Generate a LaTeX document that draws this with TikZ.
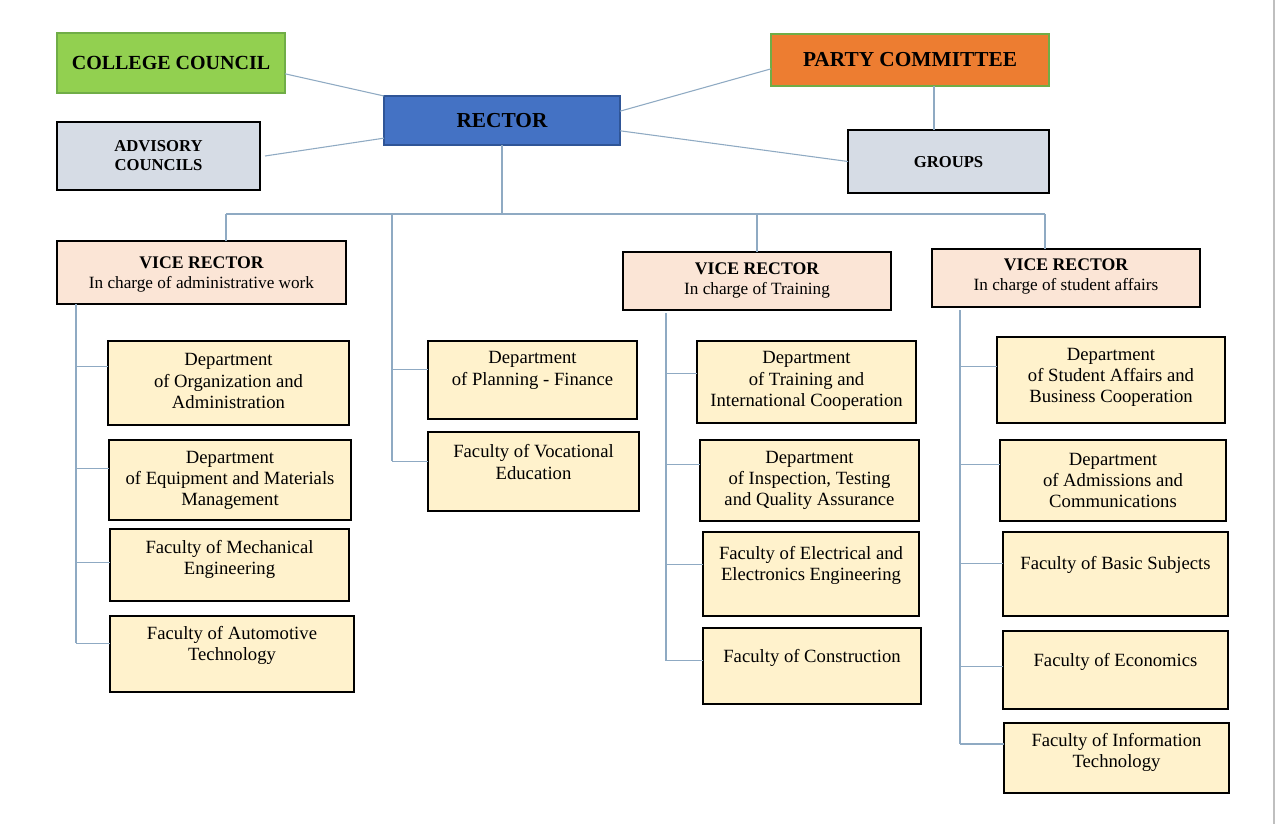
\documentclass[tikz,border=0pt]{standalone}
\usepackage{fontspec}
\setmainfont{Liberation Serif}
\usetikzlibrary{calc}
\definecolor{lineC}{RGB}{143,170,195}
\definecolor{lowF}{RGB}{255,242,204}
\definecolor{vrF}{RGB}{251,229,214}
\definecolor{grayF}{RGB}{214,220,229}
\definecolor{ccF}{RGB}{146,208,80}
\definecolor{greenB}{RGB}{112,173,71}
\definecolor{partyF}{RGB}{237,125,49}
\definecolor{rectF}{RGB}{68,114,196}
\definecolor{rectB}{RGB}{47,85,151}
\newcommand\bx[8]{%
 \node[#1, minimum width={(#5-#3)*0.75pt}, minimum height={(#6-#4)*0.75pt}] (#2) at ({(#3+#5)/2},{(#4+#6)/2}) {};
 \node[#1txt] (#2-t) at ({(#3+#5)/2},#7) {#8};}
\newcommand\brn[4]{%
 \path ($(#2.north west)!#3!(#2.south west)$) coordinate (#4);
 \draw[conn] (#4) -- (#4 -| #1);}
\newcommand\vrtitle{\fontsize{13.3}{15}\selectfont\bfseries VICE RECTOR}
\begin{document}
\begin{tikzpicture}[x=0.75pt,y=-0.75pt,
  conn/.style={draw=lineC, line width=0.8pt},
  basebox/.style={rectangle, inner sep=0pt, outer sep=0pt},
  low/.style={basebox, draw=black, fill=lowF, line width=1.5pt},
  lowtxt/.style={align=center, inner sep=0pt, font=\fontsize{14}{16}\selectfont},
  vr/.style={basebox, draw=black, fill=vrF, line width=1.5pt},
  vrtxt/.style={align=center, inner sep=0pt, font=\fontsize{12.9}{15}\selectfont},
  gray/.style={basebox, draw=black, fill=grayF, line width=1.6pt},
  graytxt/.style={align=center, inner sep=0pt, font=\fontsize{12.5}{14.25}\selectfont\bfseries},
  cc/.style={basebox, draw=greenB, fill=ccF, line width=1.5pt},
  cctxt/.style={align=center, inner sep=0pt, font=\fontsize{15}{18}\selectfont\bfseries},
  party/.style={basebox, draw=greenB, fill=partyF, line width=1.5pt},
  partytxt/.style={align=center, inner sep=0pt, font=\fontsize{16}{18}\selectfont\bfseries},
  rect/.style={basebox, draw=rectB, fill=rectF, line width=1.2pt},
  recttxt/.style={align=center, inner sep=0pt, font=\fontsize{16}{18}\selectfont\bfseries, text=black}
]
\useasboundingbox (0,0) rectangle (1280,824);
\fill[white] (0,0) rectangle (1280,824);
\draw[black!25, line width=1.5pt] (1274,0) -- (1274,824);

% top level
\bx{cc}{cc}{57}{33}{285}{93}{63}{COLLEGE COUNCIL}
\bx{party}{party}{771}{34}{1049}{86}{60}{PARTY COMMITTEE}
\bx{rect}{rector}{384}{96}{620}{145}{120.5}{RECTOR}
\bx{gray}{adv}{57}{122}{260}{190}{155.5}{ADVISORY\\COUNCILS}
\bx{gray}{groups}{848}{130}{1049}{193}{162}{GROUPS}

% vice rectors
\bx{vr}{vra}{57}{241}{346}{304}{274.5}{{\vrtitle}\\In charge of administrative work}
\bx{vr}{vrt}{623}{252}{891}{310}{280}{{\vrtitle}\\In charge of Training}
\bx{vr}{vrs}{932}{249}{1200}{307}{276.5}{{\vrtitle}\\In charge of student affairs}

% column A
\bx{low}{org}{108}{341}{349}{425}{381}{Department\\of Organization and\\Administration}
\bx{low}{equip}{109}{440}{351}{520}{480.5}{Department\\of Equipment and Materials\\Management}
\bx{low}{mech}{110}{529}{349}{601}{559.5}{Faculty of Mechanical\\Engineering}
\bx{low}{auto}{110}{616}{354}{692}{645.5}{Faculty of Automotive\\Technology}

% column P
\bx{low}{plan}{428}{341}{637}{419}{370.5}{Department\\of Planning - Finance}
\bx{low}{voc}{428}{432}{639}{511}{462}{Faculty of Vocational\\Education}

% column T
\bx{low}{train}{697}{341}{916}{423}{381}{Department\\of Training and\\International Cooperation}
\bx{low}{insp}{700}{440}{919}{521}{480.5}{Department\\of Inspection, Testing\\and Quality Assurance}
\bx{low}{elec}{703}{532}{919}{616}{565.5}{Faculty of Electrical and\\Electronics Engineering}
\bx{low}{constr}{703}{628}{921}{704}{657.5}{Faculty of Construction}

% column S
\bx{low}{stud}{997}{337}{1225}{423}{377.5}{Department\\of Student Affairs and\\Business Cooperation}
\bx{low}{adm}{1000}{440}{1226}{521}{480.5}{Department\\of Admissions and\\Communications}
\bx{low}{basic}{1003}{532}{1228}{616}{564.5}{Faculty of Basic Subjects}
\bx{low}{econ}{1003}{631}{1228}{709}{661.5}{Faculty of Economics}
\bx{low}{it}{1004}{723}{1229}{793}{752.5}{Faculty of Information\\Technology}

% top connectors
\draw[conn] ($(cc.north east)!0.68!(cc.south east)$) -- (rector.north west);
\draw[conn] ([xshift=3.75pt]adv.east) -- ($(rector.north west)!0.86!(rector.south west)$);
\draw[conn] ($(party.north west)!0.67!(party.south west)$) -- ($(rector.north east)!0.31!(rector.south east)$);
\draw[conn] ($(rector.north east)!0.71!(rector.south east)$) -- (groups.west);
\coordinate (gx) at (934,0);
\draw[conn] (party.south -| gx) -- (groups.north -| gx);

% bus
\coordinate (busL) at (226,214);
\coordinate (busR) at (1045,214);
\coordinate (spP) at (392,214);
\coordinate (spA) at (76,0);
\coordinate (spT) at (666,0);
\coordinate (spS) at (960,0);
\draw[conn] (rector.south) -- (rector.south |- busL);
\draw[conn] (busL) -- (busR);
\draw[conn] (busL) -- (busL |- vra.north);
\draw[conn] (vrt.north |- busL) -- (vrt.north);
\draw[conn] (busR) -- (busR |- vrs.north);

% branches A
\brn{spA}{org}{0.30}{bOrg}
\brn{spA}{equip}{0.36}{bEquip}
\brn{spA}{mech}{0.46}{bMech}
\brn{spA}{auto}{0.36}{bAuto}
\draw[conn] (vra.south -| spA) -- (bAuto -| spA);

% branches P
\brn{spP}{plan}{0.36}{bPlan}
\brn{spP}{voc}{0.37}{bVoc}
\draw[conn] (spP) -- (bVoc -| spP);

% branches T
\brn{spT}{train}{0.40}{bTrain}
\brn{spT}{insp}{0.30}{bInsp}
\brn{spT}{elec}{0.39}{bElec}
\brn{spT}{constr}{0.43}{bConstr}
\draw[conn] ([yshift=-2.25pt]vrt.south -| spT) -- (bConstr -| spT);

% branches S
\brn{spS}{stud}{0.34}{bStud}
\brn{spS}{adm}{0.30}{bAdm}
\brn{spS}{basic}{0.37}{bBasic}
\brn{spS}{econ}{0.46}{bEcon}
\brn{spS}{it}{0.30}{bIt}
\draw[conn] ([yshift=-2.25pt]vrs.south -| spS) -- (bIt -| spS);
\end{tikzpicture}
\end{document}
